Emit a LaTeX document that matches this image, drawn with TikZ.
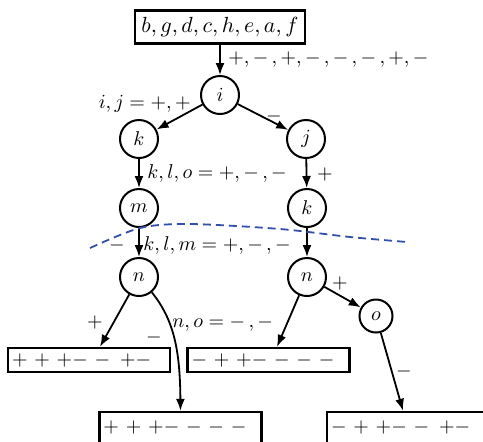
\documentclass[tikz,border=0pt]{standalone}
\usetikzlibrary{arrows.meta}
\definecolor{dashblue}{RGB}{50,80,170}
\newcommand\gp{\hspace{3.4pt}}
\begin{document}
\begin{tikzpicture}[x=0.5pt,y=-0.5pt,
  vnode/.style={circle,draw,line width=1pt,minimum size=19pt,inner sep=0pt},
  sbox/.style={draw,line width=1.2pt,minimum height=12pt,text width=77pt,inner xsep=2pt,inner ysep=0pt,align=left},
  arr/.style={-{Latex[length=6pt,width=4.5pt]},line width=0.9pt},
  lbl/.style={inner sep=0pt},
  cut/.style={dashblue,line width=0.9pt,dash pattern=on 4pt off 2.5pt}]
\useasboundingbox (0,0) rectangle (483,441);
% nodes
\node[draw,line width=1.2pt,minimum width=85pt,minimum height=16.5pt,inner sep=0pt] (top) at (220,27)
  {\fontsize{10.95}{13}\selectfont $b,g,d,c,h,e,a,f$};
\node[vnode] (i) at (220,95) {$i$};
\node[vnode] (k1) at (139,139) {$k$};
\node[vnode] (j) at (306,139) {$j$};
\node[vnode] (m) at (139,208) {$m$};
\node[vnode] (k2) at (307,208) {$k$};
\node[vnode] (n1) at (139,277) {$n$};
\node[vnode] (n2) at (307,277) {$n$};
\node[vnode,minimum size=16.5pt] (o) at (376,316) {$o$};
\node[sbox] (b1) at (89,360) {${+}\gp{+}\gp{+}{-}\gp{-}\hspace{5pt}{+}{-}$};
\node[sbox] (b2) at (268.5,360) {${-}\gp{+}\gp{+}{-}\gp{-}\gp{-}\gp{-}$};
\node[sbox,minimum height=15.5pt] (b3) at (180.5,427.5) {${+}\gp{+}\gp{+}{-}\gp{-}\gp{-}\gp{-}$};
\node[sbox,minimum height=15.5pt] (b4) at (408,427.5) {${-}\gp{+}\gp{+}{-}\gp{-}\hspace{5pt}{+}{-}$};
% edges
\draw[arr] (top) -- (i);
\draw[arr] (i) -- (k1);
\draw[arr] (i) -- (j);
\draw[arr] (k1) -- (m);
\draw[arr] (j) -- (k2);
\draw[arr] (m) -- (n1);
\draw[arr] (k2) -- (n2);
\draw[arr] (n1) -- ([xshift=5.5pt]b1.north);
\draw[arr] (n1.-50) .. controls (174,320) and (180,350) .. (b3.north);
\draw[arr] (n2) -- ([xshift=4.25pt]b2.north);
\draw[arr] (n2) -- (o);
\draw[arr] (o) -- ([xshift=-2.5pt]b4.north);
% cut line
\draw[cut] plot[smooth] coordinates {(90,248) (140,228) (190,224) (280,229) (350,237) (407,242)};
% labels
\node[lbl,anchor=base west] at (228,63) {$+,-\,,+,-\,,-\,,-\,,+,-$};
\node[lbl,anchor=base east] at (191,108) {$i,j=+,+$};
\node[lbl] at (274,116) {$-$};
\node[lbl,anchor=base west] at (147,178) {$k,l,o=+,-\,,-$};
\node[lbl] at (325,174) {$+$};
\node[lbl] at (117,245) {$-$};
\node[lbl,anchor=base west] at (143,250) {$k,l,m=+,-\,,-$};
\node[lbl] at (340,283) {$+$};
\node[lbl] at (95,322) {$+$};
\node[lbl] at (154,337) {$-$};
\node[lbl,anchor=base west] at (172,327) {$n,o=-\,,-$};
\node[lbl] at (404,371) {$-$};
\end{tikzpicture}
\end{document}
